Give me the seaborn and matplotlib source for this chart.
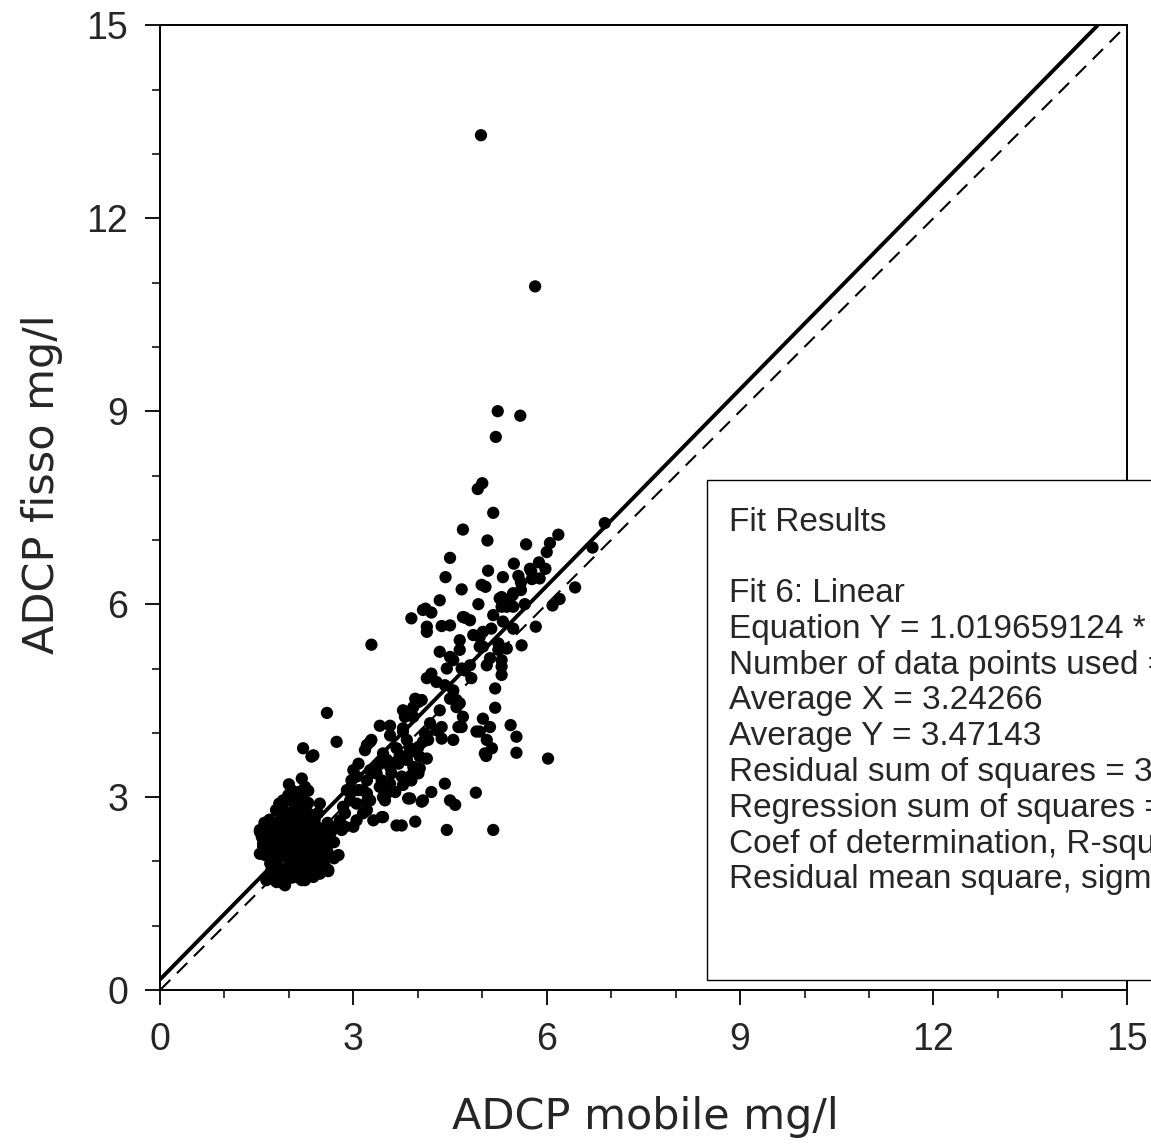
"""
ADCP mobile vs ADCP fisso scatter with linear fit and 1:1 line.
"""

import numpy as np
import pandas as pd
import matplotlib
matplotlib.use("Agg")
import matplotlib.pyplot as plt
import seaborn as sns
from matplotlib.patches import Rectangle
from matplotlib.ticker import MultipleLocator

# Scatter data, grouped by region (x = mobile, y = fisso)
upper_pts = [
    (4.98, 13.29), (5.82, 10.94), (5.24, 9.00), (5.59, 8.93), (5.21, 8.60),
    (5.00, 7.88), (4.93, 7.79), (5.17, 7.42), (4.70, 7.16), (5.08, 6.99),
    (4.50, 6.72), (5.68, 6.93), (6.18, 7.08), (6.05, 6.95), (6.00, 6.81),
    (5.88, 6.65), (5.98, 6.55), (5.49, 6.63), (5.09, 6.52), (5.32, 6.42),
    (5.56, 6.44), (5.76, 6.51), (5.77, 6.39), (5.60, 6.34), (5.60, 6.22),
    (5.47, 6.14), (4.43, 6.42), (4.68, 6.23), (4.99, 6.30), (5.05, 6.27),
    (5.27, 6.09), (4.34, 6.06), (4.94, 6.00), (4.12, 5.93), (6.90, 7.26),
    (6.71, 6.88), (6.44, 6.26), (6.20, 6.08), (6.09, 5.98), (5.38, 5.96),
    (5.66, 6.00), (5.89, 6.40), (5.43, 6.01), (5.30, 6.11), (5.74, 6.55),
    (5.48, 6.17),
]

mid_pts = [
    (3.90, 5.78), (4.08, 5.91), (4.21, 5.87), (4.14, 5.65), (4.14, 5.57),
    (4.37, 5.66), (4.50, 5.67), (4.70, 5.80), (4.81, 5.75), (5.17, 5.83),
    (5.30, 5.96), (5.48, 5.96), (5.83, 5.65), (4.86, 5.52), (4.96, 5.49),
    (5.01, 5.34), (5.25, 5.39), (5.38, 5.31), (5.61, 5.36), (3.28, 5.37),
    (4.65, 5.44), (4.34, 5.26), (4.50, 5.18), (4.45, 5.00), (4.21, 4.92),
    (4.14, 4.85), (4.68, 5.00), (4.81, 5.05), (5.12, 5.16), (5.30, 5.03),
    (5.30, 4.90), (5.20, 4.69), (4.55, 4.66), (4.50, 4.53), (4.34, 4.35),
    (4.60, 4.40), (3.96, 4.53), (4.01, 4.48), (3.77, 4.35), (3.80, 4.25),
    (4.70, 4.25), (5.20, 4.39), (5.01, 4.22), (5.12, 4.09), (4.96, 4.02),
    (4.68, 4.09), (4.19, 4.15), (4.29, 4.04), (4.37, 3.91), (4.55, 3.89),
    (4.11, 3.99), (4.08, 3.86), (3.41, 4.11), (3.57, 4.11), (3.57, 3.96),
    (3.28, 3.89), (3.21, 3.81), (2.59, 4.31), (2.74, 3.86), (2.22, 3.76),
    (2.35, 3.63), (5.44, 4.12), (5.53, 3.94), (5.07, 3.89), (5.15, 3.76),
    (5.06, 3.64), (5.53, 3.69), (6.02, 3.60), (4.01, 3.78), (3.88, 3.76),
    (3.75, 3.63), (3.67, 3.76), (3.46, 3.68), (3.52, 3.58), (3.83, 3.58),
    (3.93, 3.47), (3.98, 3.42), (4.73, 5.79), (5.01, 5.57), (5.14, 5.62),
    (5.32, 5.73), (5.48, 5.62), (4.65, 5.29), (4.83, 4.85), (4.96, 5.34),
    (5.07, 5.05), (5.25, 5.29), (5.30, 5.13), (4.42, 4.74), (4.65, 4.46),
    (4.63, 4.09), (4.37, 4.09), (4.06, 4.51), (3.93, 4.40), (3.93, 4.25),
    (4.14, 3.96), (4.16, 3.89), (4.91, 4.02), (5.04, 3.68), (2.38, 3.65),
    (3.77, 4.07), (3.83, 3.89), (3.72, 3.65), (3.88, 3.70), (4.03, 3.63),
    (4.55, 5.13), (4.73, 4.97), (4.60, 4.51), (4.29, 4.79),
]

low_pts = [
    (4.90, 3.07), (4.58, 2.88), (4.50, 2.95), (5.17, 2.49), (4.45, 2.49),
    (2.20, 3.29), (2.04, 3.11), (2.25, 3.16), (2.48, 2.90), (1.55, 2.46),
    (1.68, 2.56), (2.66, 2.30), (2.77, 2.10), (2.56, 2.02), (2.61, 1.85),
    (2.48, 1.81), (2.25, 1.71), (2.25, 1.94), (1.94, 1.63), (1.81, 1.68),
    (1.65, 1.71), (1.55, 2.12), (1.60, 2.28), (1.91, 2.95), (1.97, 2.75),
    (1.89, 2.69), (3.26, 3.86), (3.18, 3.73), (3.08, 3.52), (3.00, 3.42),
    (2.95, 3.11), (2.84, 2.85), (2.74, 2.54), (2.82, 2.49), (3.96, 2.62),
    (3.67, 2.56), (3.75, 2.56), (4.21, 3.08), (4.08, 2.95), (4.42, 3.21),
    (3.88, 2.98), (3.46, 3.00), (3.46, 2.69), (3.31, 2.64), (3.15, 2.75),
    (3.05, 2.64), (3.75, 3.32), (3.90, 3.26), (4.03, 3.45), (4.14, 3.60),
    (3.05, 3.32), (3.21, 3.26), (3.36, 3.37), (3.57, 3.47), (3.70, 3.52),
    (3.41, 3.52), (3.26, 3.42), (3.15, 3.11), (3.41, 3.16), (3.57, 3.21),
    (3.26, 2.95), (3.05, 2.90), (3.77, 4.02), (3.67, 3.55), (2.97, 3.26),
    (3.44, 3.26), (3.59, 3.37), (3.90, 3.34), (4.01, 3.37), (3.77, 3.19),
    (3.65, 3.08), (3.52, 3.06), (3.21, 3.06), (3.08, 3.11), (2.90, 3.11),
    (2.95, 2.95), (3.21, 2.93), (3.21, 2.80), (2.87, 2.75), (2.79, 2.64),
    (2.87, 2.54), (3.00, 2.54), (3.44, 2.69), (3.85, 2.98), (4.06, 2.93),
    (3.49, 2.95),
]

dense_pts = [
    (2.30, 2.91), (1.97, 2.95), (1.91, 2.80), (1.86, 2.64), (1.55, 2.49),
    (1.58, 2.38), (1.60, 2.23), (1.63, 2.10), (1.71, 1.97), (1.73, 1.87),
    (1.78, 1.71), (1.91, 1.66), (2.20, 1.71), (2.38, 1.94), (2.61, 1.87),
    (2.56, 2.05), (2.59, 2.41), (2.46, 2.33), (2.33, 2.25), (2.12, 2.38),
    (2.02, 2.49), (1.91, 2.33), (1.81, 2.23), (1.86, 2.07), (2.02, 2.02),
    (2.12, 2.12), (2.28, 2.12), (2.40, 2.18), (2.33, 2.49), (2.43, 2.54),
    (2.22, 2.59), (2.12, 2.69), (1.99, 2.75), (2.22, 2.82), (2.35, 2.69),
    (2.09, 2.85), (1.97, 2.62), (1.76, 2.44), (1.71, 2.33), (1.65, 2.18),
    (2.12, 1.92), (2.02, 1.81), (1.91, 1.87), (1.81, 1.97), (2.33, 1.97),
    (2.38, 1.76), (1.99, 3.03), (2.15, 3.08), (1.75, 2.55), (1.85, 2.45),
    (1.95, 2.55), (2.05, 2.60), (2.15, 2.50), (2.25, 2.40), (2.35, 2.35),
    (2.00, 2.20), (2.10, 2.25), (2.20, 2.30), (1.90, 2.10), (2.00, 1.95),
    (2.15, 2.00), (2.25, 2.05), (1.95, 1.80), (2.05, 1.75), (1.85, 2.20),
    (1.80, 2.35), (1.75, 2.10), (2.30, 2.60), (2.40, 2.45), (2.45, 2.20),
    (2.50, 2.10), (2.20, 2.75), (2.10, 2.90), (2.00, 2.70), (1.90, 2.45),
    (2.05, 2.35), (2.15, 2.15), (2.30, 2.00), (1.95, 2.30), (2.25, 2.20),
    (2.35, 2.10), (2.10, 1.85), (2.20, 1.90), (2.00, 2.05), (1.90, 2.60),
    (2.30, 2.75), (2.40, 2.65), (2.50, 2.50), (2.55, 2.30), (1.70, 2.40),
    (1.65, 2.30), (2.00, 3.20), (2.10, 3.00), (2.20, 3.00), (2.30, 3.10),
    (1.95, 1.70), (2.15, 1.75), (2.40, 1.90), (2.60, 2.15), (2.70, 2.30),
    (2.50, 2.35), (2.60, 2.60), (1.62, 2.60), (1.70, 2.65), (1.80, 2.80),
    (1.85, 2.90), (2.05, 3.05), (2.15, 2.80), (2.25, 2.65), (2.45, 2.75),
    (2.50, 1.95), (2.45, 2.05), (1.85, 1.75), (1.80, 1.85), (2.30, 1.85),
    (2.65, 2.45), (2.70, 2.05), (2.05, 2.15), (2.20, 2.45), (1.98, 2.40),
]

# Fit results (from the reference box)
slope = 1.019659124
intercept = 0.1651
fit_lines = [
    "Fit Results",
    "",
    "Fit 6: Linear",
    "Equation Y = 1.019659124 * X + 0.1651144",
    "Number of data points used = 412",
    "Average X = 3.24266",
    "Average Y = 3.47143",
    "Residual sum of squares = 365.0457",
    "Regression sum of squares = 1325.812",
    "Coef of determination, R-squared = 0.784065",
    "Residual mean square, sigma-hat-sq'd = 0.890355",
]

pts = upper_pts + mid_pts + low_pts + dense_pts
df = pd.DataFrame(pts, columns=["mobile", "fisso"])

sns.set_style("ticks")
plt.rcParams["font.family"] = ["Liberation Sans", "DejaVu Sans"]

fig = plt.figure(figsize=(11.51, 11.46), dpi=100)
ax = fig.add_axes([0.139, 0.136, 0.840, 0.842])

# fit line (solid) and 1:1 line (dashed)
xl = np.array([0, 15])
ax.plot(xl, slope * xl + intercept, color="black", lw=2.8, solid_capstyle="butt", zorder=3)
ax.plot(xl, xl, color="black", lw=1.5, dashes=(7, 4.5), zorder=3)

sns.scatterplot(data=df, x="mobile", y="fisso", ax=ax, color="black",
                s=78, edgecolor="none", linewidth=0, zorder=4)

ax.set_xlim(0, 15)
ax.set_ylim(0, 15)
ax.xaxis.set_major_locator(MultipleLocator(3))
ax.yaxis.set_major_locator(MultipleLocator(3))
ax.xaxis.set_minor_locator(MultipleLocator(1))
ax.yaxis.set_minor_locator(MultipleLocator(1))
ax.tick_params(which="major", direction="out", length=11, width=1.3,
               labelsize=27, pad=12, color="black")
ax.tick_params(which="minor", direction="out", length=6, width=1.1, color="black")
for sp in ax.spines.values():
    sp.set_linewidth(1.4)
    sp.set_color("black")
    sp.set_visible(True)

ax.set_xlabel("ADCP mobile mg/l", family="DejaVu Sans", fontsize=31)
ax.set_ylabel("ADCP fisso mg/l", family="DejaVu Sans", fontsize=31)
ax.xaxis.set_label_coords(0.502, -0.11)
ax.yaxis.set_label_coords(-0.100, 0.524)

# fit results box, running off the right edge of the figure
box = Rectangle((8.48, 0.16), 12, 7.77, facecolor="white", edgecolor="black",
                linewidth=1.0, clip_on=False, zorder=6)
ax.add_patch(box)
for i, line in enumerate(fit_lines):
    ax.text(8.83, 7.275 - i * 0.556, line, fontsize=24, va="center", ha="left",
            clip_on=False, zorder=7)

fig.savefig("out.png", dpi=100)
